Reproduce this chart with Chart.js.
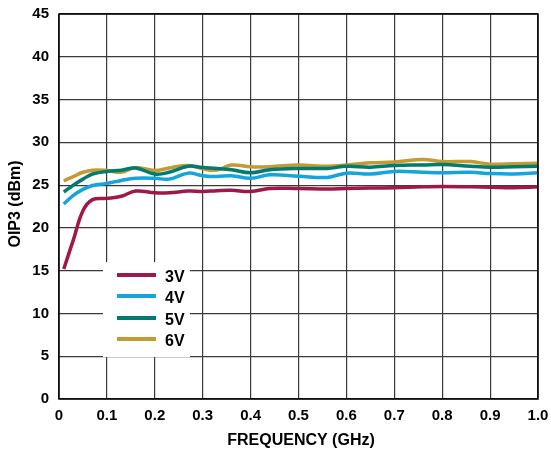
<!DOCTYPE html>
<html>
<head>
<meta charset="utf-8">
<script src="https://cdn.jsdelivr.net/npm/chart.js@4/dist/chart.umd.min.js"></script>
<style>
  html, body { margin: 0; padding: 0; background: #fff; }
  #wrap { width: 551px; height: 452px; position: relative; }
</style>
</head>
<body>
<div id="wrap"><canvas id="chart" width="551" height="452"></canvas></div>
<script>
'use strict'

// frequency points (GHz)
const freq = [0.01, 0.03, 0.05, 0.07, 0.1, 0.13, 0.16, 0.2, 0.23, 0.27, 0.3, 0.33, 0.36,
              0.4, 0.44, 0.5, 0.56, 0.6, 0.65, 0.7, 0.76, 0.8, 0.86, 0.9, 0.95, 1.0];

// OIP3 (dBm) per supply voltage
const oip3_3V = [15.2, 18.6, 22.0, 23.3, 23.45, 23.7, 24.3, 24.1, 24.1, 24.3, 24.25, 24.35, 24.4,
                 24.25, 24.6, 24.6, 24.55, 24.6, 24.65, 24.7, 24.8, 24.85, 24.8, 24.75, 24.7, 24.8];
const oip3_4V = [22.8, 23.8, 24.5, 24.95, 25.2, 25.55, 25.8, 25.8, 25.7, 26.4, 26.1, 26.0, 26.1,
                 25.8, 26.2, 26.05, 25.9, 26.4, 26.3, 26.6, 26.5, 26.45, 26.5, 26.35, 26.3, 26.45];
const oip3_5V = [24.2, 25.0, 25.7, 26.3, 26.6, 26.75, 27.0, 26.3, 26.5, 27.2, 27.05, 26.95, 26.8,
                 26.45, 26.8, 26.95, 26.95, 27.2, 27.1, 27.3, 27.35, 27.4, 27.2, 27.1, 27.15, 27.2];
const oip3_6V = [25.5, 26.0, 26.5, 26.75, 26.7, 26.5, 27.05, 26.7, 27.0, 27.3, 26.9, 26.75, 27.35,
                 27.15, 27.15, 27.35, 27.2, 27.35, 27.6, 27.7, 28.0, 27.75, 27.75, 27.45, 27.5, 27.55];

const seriesNames = ['3V', '4V', '5V', '6V'];
const seriesColors = ['#a0184a', '#14a5dc', '#007b6f', '#c49b33'];
const seriesData = [oip3_3V, oip3_4V, oip3_5V, oip3_6V];

const FONT = '"Liberation Sans", Arial, sans-serif';

function puntos(valores){
    return freq.map((f, i) => ({ x: f, y: valores[i] }));
}

// frame, axis titles and the boxed legend inside the plot
const extras = {
    id: 'extras',
    afterDatasetsDraw(chart){
        const ctx = chart.ctx;
        const a = chart.chartArea;
        ctx.save();
        ctx.strokeStyle = '#000';
        ctx.lineWidth = 1.5;
        ctx.strokeRect(a.left, a.top, a.right - a.left, a.bottom - a.top);

        // legend
        ctx.fillStyle = '#fff';
        ctx.fillRect(103, 262, 87, 95);
        ctx.lineWidth = 4;
        ctx.font = 'bold 16px ' + FONT;
        ctx.textAlign = 'left';
        ctx.textBaseline = 'middle';
        const ys = [275, 296, 318, 339];
        seriesNames.forEach((n, i) => {
            ctx.strokeStyle = seriesColors[i];
            ctx.beginPath();
            ctx.moveTo(117, ys[i]);
            ctx.lineTo(156, ys[i]);
            ctx.stroke();
            ctx.fillStyle = '#000';
            ctx.fillText(n, 165, ys[i] + 3);
        });

        // axis titles
        ctx.fillStyle = '#000';
        ctx.font = 'bold 16px ' + FONT;
        ctx.textAlign = 'center';
        ctx.textBaseline = 'middle';
        ctx.fillText('FREQUENCY (GHz)', 301, 441);
        ctx.translate(16, 204);
        ctx.rotate(-Math.PI / 2);
        ctx.fillText('OIP3 (dBm)', 0, 0);
        ctx.restore();
    }
};

function dibujar(){
    const ctx = document.getElementById('chart').getContext('2d');
    const datasets = seriesNames.map((n, i) => ({
        label: n,
        data: puntos(seriesData[i]),
        borderColor: seriesColors[i],
        backgroundColor: seriesColors[i],
        borderWidth: 3.5,
        pointRadius: 0,
        tension: 0.4,
        fill: false
    }));

    new Chart(ctx, {
        type: 'line',
        data: { datasets: datasets },
        options: {
            responsive: false,
            animation: false,
            layout: { padding: { left: 0, right: 13, top: 14, bottom: 0 } },
            plugins: { legend: { display: false }, tooltip: { enabled: false } },
            scales: {
                x: {
                    type: 'linear',
                    min: 0, max: 1,
                    afterFit: s => { s.height = 53; s.paddingLeft = 0; s.paddingRight = 0; },
                    ticks: {
                        stepSize: 0.1,
                        padding: 8,
                        color: '#000',
                        font: { family: FONT, size: 15, weight: 'bold' },
                        callback: v => v === 0 ? '0' : v.toFixed(1)
                    },
                    grid: { color: '#3a3a3a', lineWidth: 1.2, drawTicks: false },
                    border: { display: false }
                },
                y: {
                    min: 0, max: 45,
                    afterFit: s => { s.width = 59; s.paddingTop = 0; s.paddingBottom = 0; },
                    ticks: {
                        stepSize: 5,
                        padding: 10,
                        color: '#000',
                        font: { family: FONT, size: 15, weight: 'bold' }
                    },
                    grid: { color: '#3a3a3a', lineWidth: 1.2, drawTicks: false },
                    border: { display: false }
                }
            }
        },
        plugins: [extras]
    });
}
dibujar();
</script>
</body>
</html>
